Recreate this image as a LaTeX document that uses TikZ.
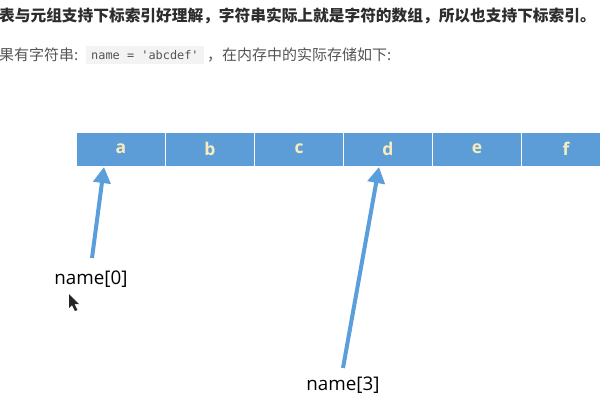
\documentclass[tikz,border=0pt]{standalone}
\usepackage{fontspec}
\setmainfont{Open Sans}
\newfontfamily\cjk{Noto Sans CJK SC}
\newfontfamily\codefont{DejaVu Sans Mono}
\newfontfamily\lblfont{Open Sans}
\usetikzlibrary{arrows.meta}
\definecolor{cellblue}{RGB}{93,157,215}
\definecolor{arrblue}{RGB}{91,158,220}
\definecolor{lettercol}{RGB}{248,236,190}
\definecolor{txtdark}{RGB}{45,45,45}
\definecolor{txtgrey}{RGB}{85,85,85}
\definecolor{codebg}{RGB}{243,243,243}
\tikzset{
  cell/.style={fill=cellblue, draw=white, line width=1pt, minimum width=89pt, minimum height=34pt, inner sep=0pt,
    font=\fontsize{17.5}{17}\selectfont\bfseries, text=lettercol},
  ptr/.style={draw=arrblue, line width=4pt, -{Triangle[width=17pt,length=16pt]}, shorten >=0pt},
  lbl/.style={font=\lblfont\fontsize{18.8}{19}\selectfont, text=black, inner sep=0pt},
  head/.style={anchor=west, inner sep=0pt},
}
\begin{document}
\begin{tikzpicture}[x=1pt,y=-1pt]
\useasboundingbox[fill=white] (0,0) rectangle (600,400);
% header texts
\node[head, font=\cjk\fontsize{15.7}{16}\selectfont\bfseries, text=txtdark] (h1) at (-1,16)
  {表与元组支持下标索引好理解，字符串实际上就是字符的数组，所以也支持下标索引。};
\node[head, font=\cjk\fontsize{15}{15}\selectfont, text=txtgrey] (h2a) at (-1,55) {果有字符串:};
\node[head, fill=codebg, inner xsep=5pt, inner ysep=4pt, font=\codefont\fontsize{11.9}{12}\selectfont, text=txtgrey] (h2b) at (86,55) {name = 'abcdef'};
\node[head, font=\cjk\fontsize{15}{15}\selectfont, text=txtgrey] (h2c) at (207,55) {，在内存中的实际存储如下:};
% cells
\clip (0,0) rectangle (600,400);
\node[cell] (c0) at (121,149) {a};
\node[cell] (c1) at (210,149) {b};
\node[cell] (c2) at (299,149) {c};
\node[cell] (c3) at (388,149) {d};
\node[cell] (c4) at (477,149) {e};
\node[cell] (c5) at (566,149) {f};
% labels
\node[lbl] (l0) at (91,279) {name[0]};
\node[lbl] (l3) at (343,385) {name[3]};
% arrows
\coordinate (t0) at (92,258);
\coordinate (p0) at (104,167);
\coordinate (t3) at (343,368);
\coordinate (p3) at (379,167);
\draw[ptr] (t0) -- (p0);
\draw[ptr] (t3) -- (p3);
% mouse cursor
\fill[black!85] (69,294) -- (69,308) -- (72,305) -- (75,311) -- (77.5,310) -- (74.5,304) -- (79,304) -- cycle;
\end{tikzpicture}
\end{document}
